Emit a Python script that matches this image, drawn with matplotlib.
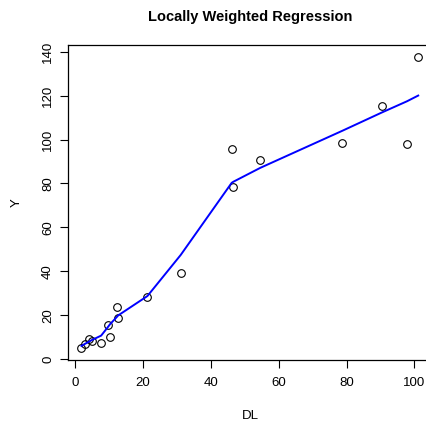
import numpy as np
import matplotlib.pyplot as plt

plt.rcParams['font.family'] = ['Liberation Sans', 'DejaVu Sans']

# observed points
dl = [1.98, 2.96, 4.14, 4.94, 7.78, 9.67, 10.4, 12.4, 12.8, 21.4, 31.2,
      46.2, 46.7, 54.6, 78.8, 90.4, 97.8, 101.1]
y = [5.0, 6.8, 9.1, 8.3, 7.3, 15.6, 10.3, 23.8, 18.8, 28.5, 39.4,
     95.8, 78.6, 90.6, 98.3, 115.3, 98.0, 137.7]

# lowess fit
fit = [6.1, 7.0, 8.0, 8.7, 10.8, 14.5, 16.0, 19.3, 20.0, 28.8, 47.5,
       80.3, 80.8, 87.1, 104.0, 112.3, 117.4, 120.0]

fig = plt.figure(figsize=(4.27, 4.23), dpi=100)
ax = fig.add_axes([68 / 427, 63 / 423, (431.8 - 68) / 427, 315 / 423])

ax.plot(dl, y, 'o', mfc='none', mec='black', ms=5.5, mew=0.8)
ax.plot(dl, fit, color='blue', lw=1.4)

ax.set_xlim(-1.98, 105.1)
ax.set_ylim(-0.3, 143.0)
ax.set_xticks([0, 20, 40, 60, 80, 100])
ax.set_yticks([0, 20, 40, 60, 80, 100, 120, 140])
ax.tick_params(length=6, width=0.8, labelsize=9.5, pad=6)
ax.tick_params(axis='y', pad=4)
for lab in ax.get_yticklabels():
    lab.set_rotation(90)
    lab.set_va('center')
for s in ax.spines.values():
    s.set_linewidth(0.9)
ax.spines['right'].set_visible(False)

ax.set_xlabel('DL', fontsize=9.5, labelpad=15)
ax.set_ylabel('Y', fontsize=9.5, labelpad=14)
ax.set_title('Locally Weighted Regression', fontsize=10.5, fontweight='bold', pad=17)

fig.savefig('out.png', dpi=100)
